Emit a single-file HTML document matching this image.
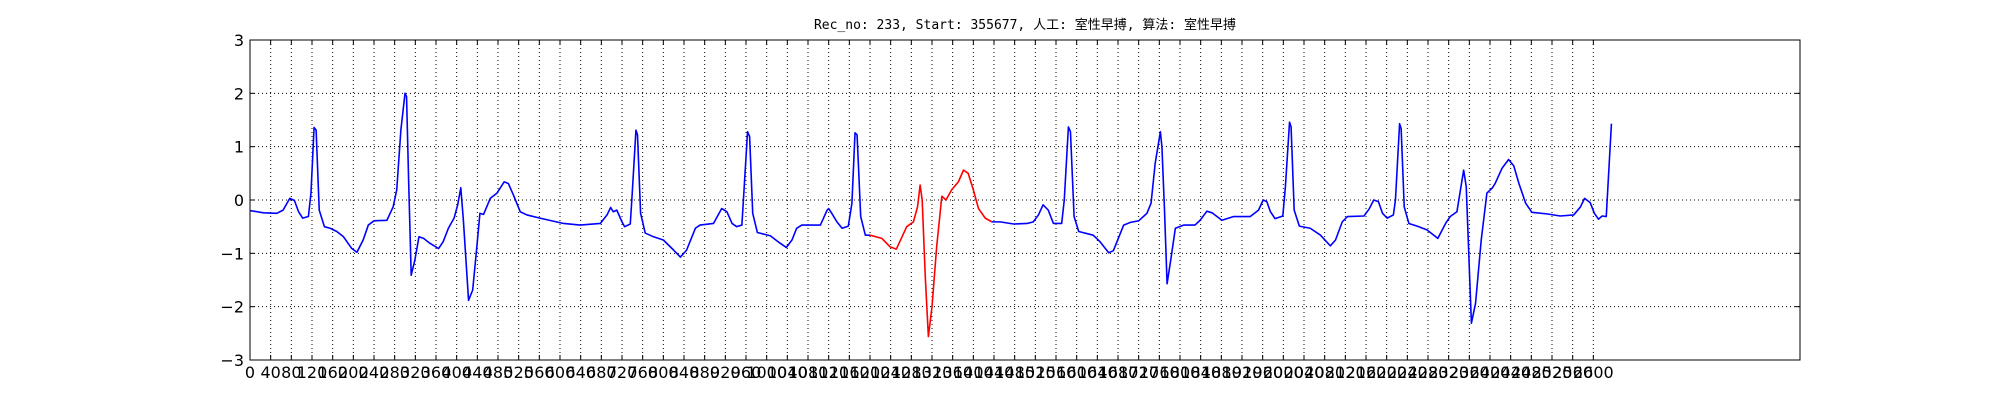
<!DOCTYPE html>
<html><head><meta charset="utf-8"><style>
html,body{margin:0;padding:0;background:#fff;}
svg{display:block;}
</style></head><body>
<svg id="chart" width="2000" height="400" xmlns="http://www.w3.org/2000/svg">
<rect x="0" y="0" width="2000" height="400" fill="#fff"/>
<text x="1025" y="29" text-anchor="middle" font-family="'DejaVu Sans Mono','Liberation Mono','Noto Sans CJK SC',monospace" font-size="13" fill="#000">Rec_no: 233, Start: 355677, 人工: 室性早搏, 算法: 室性早搏</text>
<g id="grid"></g>
<g id="series"></g>
<rect x="250" y="40" width="1550" height="320" fill="none" stroke="#000" stroke-width="1"/>
<g id="ticks"></g>
</svg>
<script>
const blueSamples1 = [1,26,52,64,77,86,94,102,113,118,124,128,134,144,155,168,181,197,207,219,229,240,265,277,284,292,300,303,307,312,319,327,336,348,365,374,384,395,402,408,413,423,431,439,445,452,465,478,492,500,510,523,536,561,607,639,678,691,698,703,710,720,725,736,739,747,750,756,765,781,800,820,833,845,862,871,897,913,923,933,942,952,955,963,967,973,982,1007,1026,1038,1049,1058,1068,1104,1117,1120,1126,1136,1146,1158,1165,1171,1175,1182,1191,1200];
const blueValues1 = [-0.20,-0.24,-0.25,-0.19,0.03,-0.01,-0.22,-0.34,-0.31,0.13,1.36,1.31,-0.19,-0.50,-0.53,-0.59,-0.69,-0.91,-0.98,-0.75,-0.47,-0.39,-0.38,-0.13,0.19,1.31,2.00,1.94,0.37,-1.41,-1.13,-0.69,-0.72,-0.81,-0.91,-0.78,-0.53,-0.34,-0.09,0.23,-0.38,-1.88,-1.69,-0.88,-0.25,-0.27,0.03,0.13,0.34,0.31,0.09,-0.22,-0.28,-0.34,-0.44,-0.47,-0.44,-0.28,-0.14,-0.22,-0.19,-0.41,-0.50,-0.45,0.00,1.31,1.22,-0.25,-0.62,-0.69,-0.75,-0.94,-1.07,-0.94,-0.53,-0.47,-0.44,-0.16,-0.22,-0.44,-0.50,-0.47,0.00,1.28,1.19,-0.25,-0.61,-0.67,-0.81,-0.89,-0.75,-0.53,-0.47,-0.47,-0.19,-0.16,-0.25,-0.41,-0.53,-0.49,-0.06,1.26,1.22,-0.31,-0.66,-0.66];
const redSamples = [1200,1223,1239,1251,1262,1271,1284,1292,1297,1301,1307,1313,1320,1329,1339,1347,1358,1371,1381,1390,1400,1410,1423,1436];
const redValues = [-0.66,-0.72,-0.88,-0.92,-0.69,-0.50,-0.41,-0.13,0.28,0.00,-1.44,-2.56,-2.00,-0.88,0.07,0.00,0.19,0.34,0.56,0.50,0.19,-0.16,-0.34,-0.41];
const blueSamples2 = [1436,1452,1478,1504,1516,1526,1535,1545,1555,1571,1576,1584,1588,1595,1604,1632,1645,1662,1671,1691,1704,1720,1736,1744,1752,1762,1765,1770,1775,1782,1791,1807,1829,1839,1852,1862,1881,1904,1936,1952,1961,1968,1975,1984,1999,2004,2012,2015,2021,2031,2052,2072,2091,2101,2114,2124,2156,2166,2175,2184,2192,2201,2213,2217,2225,2228,2234,2243,2259,2278,2299,2314,2323,2336,2349,2354,2364,2372,2383,2394,2404,2410,2423,2436,2446,2456,2469,2481,2510,2536,2562,2575,2583,2594,2602,2610,2617,2625,2635];
const blueValues2 = [-0.41,-0.41,-0.45,-0.44,-0.41,-0.28,-0.09,-0.19,-0.44,-0.44,0.00,1.37,1.28,-0.31,-0.59,-0.66,-0.78,-0.99,-0.95,-0.47,-0.42,-0.39,-0.25,-0.06,0.69,1.28,1.00,-0.19,-1.57,-1.13,-0.53,-0.47,-0.47,-0.38,-0.21,-0.24,-0.38,-0.31,-0.31,-0.19,0.00,-0.03,-0.22,-0.35,-0.30,0.25,1.46,1.37,-0.19,-0.49,-0.53,-0.66,-0.86,-0.75,-0.41,-0.31,-0.30,-0.17,0.00,-0.03,-0.25,-0.34,-0.28,0.00,1.43,1.34,-0.13,-0.44,-0.49,-0.56,-0.72,-0.44,-0.31,-0.22,0.56,0.25,-2.31,-1.94,-0.75,0.13,0.22,0.31,0.59,0.76,0.64,0.31,-0.06,-0.23,-0.26,-0.30,-0.28,-0.13,0.03,-0.05,-0.25,-0.36,-0.30,-0.31,1.43];
const xTickLabels = [];
for (let t = 0; t <= 2600; t += 40) xTickLabels.push(t);
const yTickLabels = [-3,-2,-1,0,1,2,3];

const X0=250,X1=1800,Y0=360,Y1=40,XMAX=3000,YMIN=-3,YMAX=3;
function xs(v){return X0+(v/XMAX)*(X1-X0);}
function ys(v){return Y0-(v-YMIN)/(YMAX-YMIN)*(Y0-Y1);}
const NS="http://www.w3.org/2000/svg";
const grid=document.getElementById('grid'),ticks=document.getElementById('ticks'),series=document.getElementById('series');
function mk(tag,attrs,parent){const e=document.createElementNS(NS,tag);for(const k in attrs)e.setAttribute(k,attrs[k]);parent.appendChild(e);return e;}
const FONT="'DejaVu Sans','Liberation Sans',sans-serif";
xTickLabels.forEach(t=>{
  const x=xs(t);
  const g=mk('line',{x1:x,x2:x,y1:Y1,y2:Y0,stroke:'#000','stroke-width':1,'stroke-dasharray':'1,3'},grid);
  
  
  const tb=mk('line',{x1:x,x2:x,y1:Y0,y2:Y0-5,stroke:'#000','stroke-width':1},ticks);
  
  
  const tt=mk('line',{x1:x,x2:x,y1:Y1,y2:Y1+5,stroke:'#000','stroke-width':1},ticks);
  
  
  const l=mk('text',{x:x,y:Y0+18,'text-anchor':'middle','font-family':FONT,'font-size':16,fill:'#000'},ticks);
  l.textContent=t;
  
  
});
yTickLabels.forEach(t=>{
  const y=ys(t);
  if(t>YMIN&&t<YMAX){
    const g=mk('line',{x1:X0,x2:X1,y1:y,y2:y,stroke:'#000','stroke-width':1,'stroke-dasharray':'1,3'},grid);
    
    
  }
  const tl=mk('line',{x1:X0,x2:X0+5,y1:y,y2:y,stroke:'#000','stroke-width':1},ticks);
  
  
  const tr=mk('line',{x1:X1,x2:X1-5,y1:y,y2:y,stroke:'#000','stroke-width':1},ticks);
  
  
  const l=mk('text',{x:X0-6,y:y+6,'text-anchor':'end','font-family':FONT,'font-size':16,fill:'#000'},ticks);
  l.textContent=(t<0?'\u2212'+Math.abs(t):String(t));
  
  
});
function line(sx,sv,color,name){
  const pts=sx.map((s,i)=>xs(s).toFixed(2)+','+ys(sv[i]).toFixed(2)).join(' ');
  const p=mk('polyline',{points:pts,fill:'none',stroke:color,'stroke-width':1.6,'stroke-linejoin':'round'},series);
  
  
}
line(blueSamples1,blueValues1,'#0000ff','ecg-line-normal-1');
line(redSamples,redValues,'#ff0000','ecg-line-pvc');
line(blueSamples2,blueValues2,'#0000ff','ecg-line-normal-2');
</script>
</body></html>
